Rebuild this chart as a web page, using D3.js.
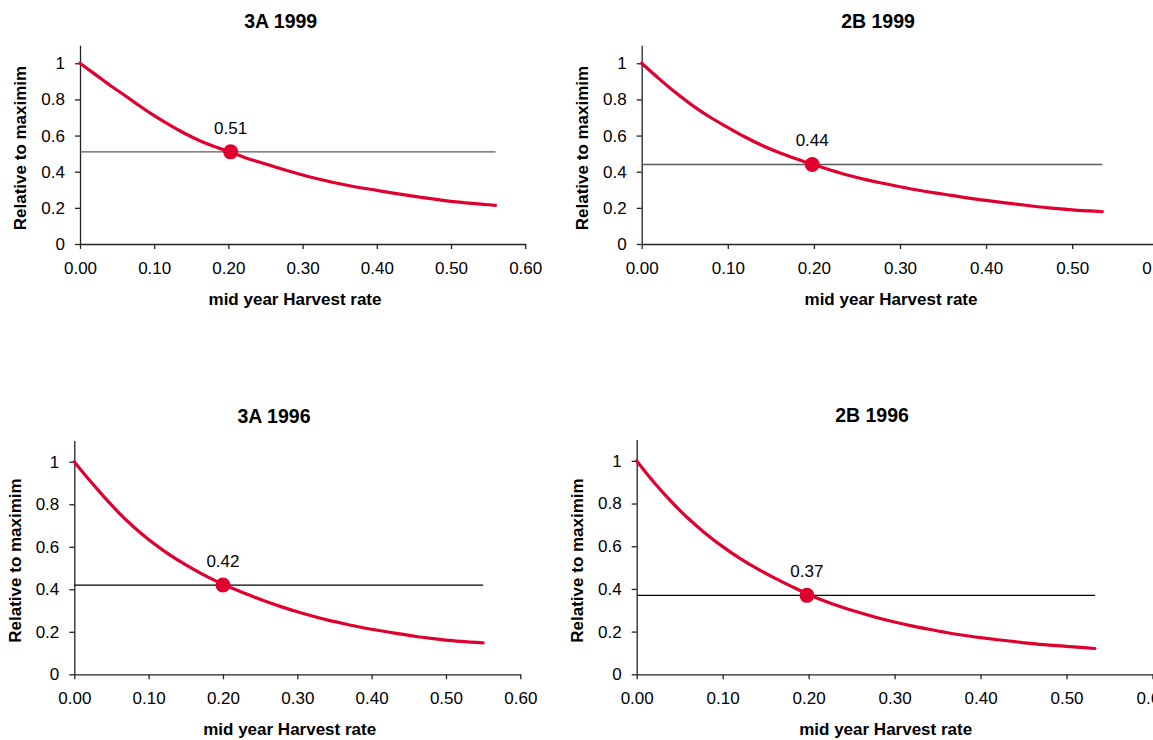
<!DOCTYPE html>
<html>
<head>
<meta charset="utf-8">
<script src="https://cdn.jsdelivr.net/npm/d3@7"></script>
<style>
  html, body { margin: 0; padding: 0; background: #fff; }
  svg { display: block; }
  text { font-family: "Liberation Sans", Arial, sans-serif; fill: #000; }
</style>
</head>
<body>
<svg id="chart" width="1153" height="740"></svg>
<script>
// ---------- data ----------
const panelTitles = ["3A 1999", "2B 1999", "3A 1996", "2B 1996"];
const xAxisTitle = "mid year Harvest rate";
const yAxisTitle = "Relative to maximim";
const xTickValues = [0, 0.1, 0.2, 0.3, 0.4, 0.5, 0.6];
const xTickLabels = ["0.00", "0.10", "0.20", "0.30", "0.40", "0.50", "0.60"];
const yTickValues = [0, 0.2, 0.4, 0.6, 0.8, 1];
const yTickLabels = ["0", "0.2", "0.4", "0.6", "0.8", "1"];

// 3A 1999
const rates3A1999 = [0, 0.02, 0.04, 0.06, 0.08, 0.10, 0.12, 0.14, 0.16, 0.18, 0.20, 0.22, 0.24, 0.26, 0.28, 0.30, 0.32, 0.34, 0.36, 0.38, 0.40, 0.42, 0.44, 0.46, 0.48, 0.50, 0.52, 0.54, 0.56];
const rel3A1999   = [1.000, 0.940, 0.880, 0.823, 0.765, 0.710, 0.660, 0.614, 0.574, 0.541, 0.512, 0.482, 0.455, 0.430, 0.405, 0.382, 0.361, 0.342, 0.325, 0.310, 0.297, 0.283, 0.270, 0.258, 0.247, 0.236, 0.228, 0.221, 0.214];
// 2B 1999
const rates2B1999 = [0, 0.02, 0.04, 0.06, 0.08, 0.10, 0.12, 0.14, 0.16, 0.18, 0.20, 0.22, 0.24, 0.26, 0.28, 0.30, 0.32, 0.34, 0.36, 0.38, 0.40, 0.42, 0.44, 0.46, 0.48, 0.50, 0.52, 0.535];
const rel2B1999   = [1.000, 0.915, 0.835, 0.763, 0.700, 0.645, 0.592, 0.545, 0.505, 0.470, 0.438, 0.408, 0.380, 0.356, 0.336, 0.317, 0.299, 0.283, 0.269, 0.254, 0.241, 0.229, 0.218, 0.206, 0.197, 0.189, 0.183, 0.179];
// 3A 1996
const rates3A1996 = [0, 0.02, 0.04, 0.06, 0.08, 0.10, 0.12, 0.14, 0.16, 0.18, 0.20, 0.22, 0.24, 0.26, 0.28, 0.30, 0.32, 0.34, 0.36, 0.38, 0.40, 0.42, 0.44, 0.46, 0.48, 0.50, 0.52, 0.55];
const rel3A1996   = [1.000, 0.915, 0.835, 0.760, 0.693, 0.634, 0.582, 0.536, 0.495, 0.457, 0.423, 0.394, 0.366, 0.340, 0.316, 0.294, 0.274, 0.256, 0.240, 0.225, 0.212, 0.200, 0.189, 0.178, 0.169, 0.161, 0.155, 0.148];
// 2B 1996
const rates2B1996 = [0, 0.02, 0.04, 0.06, 0.08, 0.10, 0.12, 0.14, 0.16, 0.18, 0.20, 0.22, 0.24, 0.26, 0.28, 0.30, 0.32, 0.34, 0.36, 0.38, 0.40, 0.42, 0.44, 0.46, 0.48, 0.50, 0.52, 0.533];
const rel2B1996   = [1.000, 0.900, 0.810, 0.730, 0.660, 0.598, 0.543, 0.495, 0.452, 0.412, 0.374, 0.341, 0.313, 0.288, 0.265, 0.245, 0.227, 0.211, 0.196, 0.183, 0.172, 0.162, 0.153, 0.144, 0.137, 0.131, 0.125, 0.121];

const refRates  = [0.203, 0.198, 0.200, 0.198];
const refValues = [0.51, 0.44, 0.42, 0.37];
const refLabels = ["0.51", "0.44", "0.42", "0.37"];

const seriesRates  = [rates3A1999, rates2B1999, rates3A1996, rates2B1996];
const seriesValues = [rel3A1999, rel2B1999, rel3A1996, rel2B1996];

// ---------- layout (positions/styles only) ----------
const layout = [
  { x0: 80,    x06: 525.2,  y0: 244,   yTop: 45.2,  title: [280.7, 27.5], xlab: [295, 305], ylab: [26, 148],   refColor: "#5a5a5a" },
  { x0: 641.7, x06: 1158.3, y0: 244,   yTop: 45.2,  title: [878, 27.5],   xlab: [891, 305], ylab: [588, 148],  refColor: "#5a5a5a" },
  { x0: 74.3,  x06: 520.3,  y0: 674.3, yTop: 440.5, title: [274, 423],    xlab: [289.7, 735], ylab: [21, 560.5], refColor: "#000" },
  { x0: 636.7, x06: 1152.5, y0: 674.3, yTop: 439.5, title: [872, 422],    xlab: [885.7, 735], ylab: [583, 560.5], refColor: "#000" }
];

const RED = "#e0002f";
const svg = d3.select("#chart");

layout.forEach((L, i) => {
  const g = svg.append("g");
  const x = d3.scaleLinear().domain([0, 0.6]).range([L.x0, L.x06]);
  const y = d3.scaleLinear().domain([0, 1.1]).range([L.y0, L.yTop]);

  const xAxis = d3.axisBottom(x).tickValues(xTickValues).tickSize(5).tickSizeOuter(0)
    .tickPadding(13).tickFormat((d, k) => xTickLabels[k]);
  const yAxis = d3.axisLeft(y).tickValues(yTickValues).tickSize(5).tickSizeOuter(0)
    .tickPadding(10).tickFormat((d, k) => yTickLabels[k]);

  const gx = g.append("g").attr("transform", `translate(0,${L.y0})`).call(xAxis);
  const gy = g.append("g").attr("transform", `translate(${L.x0},0)`).call(yAxis);
  [gx, gy].forEach(a => {
    a.attr("font-family", null).attr("font-size", null);
    a.select(".domain").attr("stroke", "#222").attr("stroke-width", 1.3);
    a.selectAll(".tick line").attr("stroke", "#222").attr("stroke-width", 1.3);
    a.selectAll(".tick text").style("font-size", "17px").attr("fill", "#111");
  });

  const data = seriesRates[i].map((r, k) => [r, seriesValues[i][k]]);
  const lastRate = seriesRates[i][seriesRates[i].length - 1];

  g.append("line")
    .attr("x1", x(0)).attr("x2", x(lastRate))
    .attr("y1", y(refValues[i])).attr("y2", y(refValues[i]))
    .attr("stroke", L.refColor).attr("stroke-width", 1.3);

  g.append("path").datum(data)
    .attr("fill", "none").attr("stroke", RED).attr("stroke-width", 3.2)
    .attr("stroke-linejoin", "round").attr("stroke-linecap", "round")
    .attr("d", d3.line().x(d => x(d[0])).y(d => y(d[1])).curve(d3.curveMonotoneX));

  g.append("circle")
    .attr("cx", x(refRates[i])).attr("cy", y(refValues[i])).attr("r", 7.5)
    .attr("fill", RED);

  g.append("text")
    .attr("x", x(refRates[i])).attr("y", y(refValues[i]) - 18)
    .attr("text-anchor", "middle").style("font-size", "17px").attr("fill", "#111")
    .text(refLabels[i]);

  g.append("text").attr("x", L.title[0]).attr("y", L.title[1])
    .attr("text-anchor", "middle").style("font-size", "19.5px").style("font-weight", "bold")
    .text(panelTitles[i]);
  g.append("text").attr("x", L.xlab[0]).attr("y", L.xlab[1])
    .attr("text-anchor", "middle").style("font-size", "17px").style("font-weight", "bold")
    .text(xAxisTitle);
  g.append("text")
    .attr("transform", `translate(${L.ylab[0]},${L.ylab[1]}) rotate(-90)`)
    .attr("text-anchor", "middle").style("font-size", "17px").style("font-weight", "bold")
    .text(yAxisTitle);
});
</script>
</body>
</html>
